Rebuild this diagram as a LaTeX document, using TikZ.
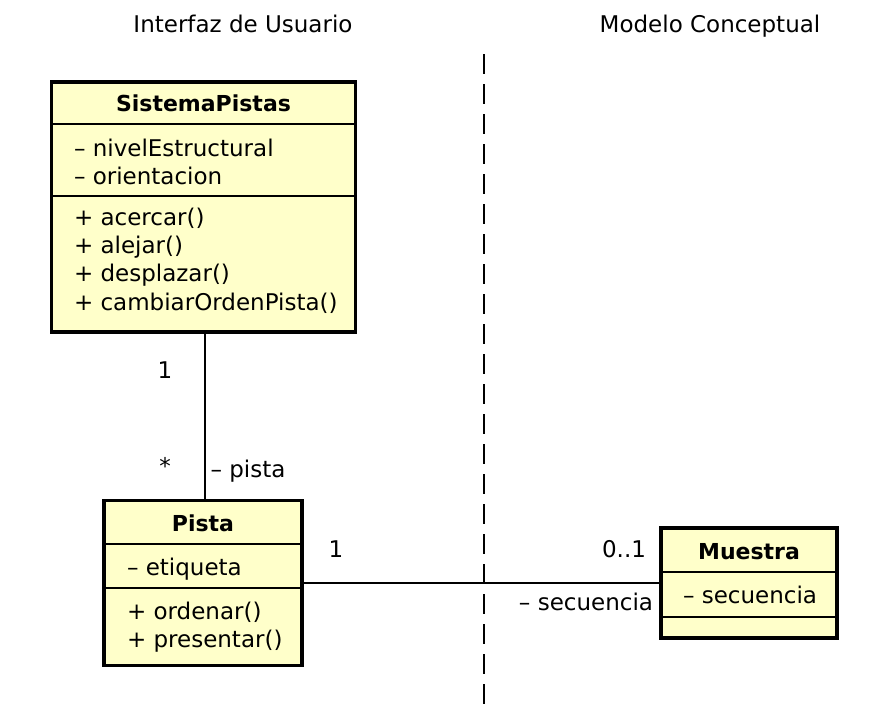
\documentclass[tikz,border=0pt]{standalone}
\usepackage{fontspec}
\setmainfont{DejaVu Sans}
\begin{document}
\begin{tikzpicture}[x=1pt,y=-1pt,
  every node/.style={inner sep=0pt, outer sep=0pt, font=\fontsize{23}{27}\selectfont},
  classbox/.style={draw, line width=3.5pt, fill=umlfill, rectangle},
  divider/.style={line width=1.2pt},
  conn/.style={line width=1.5pt},
  lbl/.style={anchor=base},
  mem/.style={anchor=base west},
  title/.style={anchor=base, font=\fontsize{22}{26}\selectfont\bfseries}]
\definecolor{umlfill}{RGB}{255,255,202}
\useasboundingbox (0,0) rectangle (886,716);
% headings
\node[lbl] (h1) at (243,32) {Interfaz de Usuario};
\node[lbl] (h2) at (710,32) {Modelo Conceptual};
% separator
\coordinate (sepT) at (484,54);
\coordinate (sepB) at (484,706);
\draw[line width=1.5pt, dash pattern=on 20pt off 10pt] (sepT) -- (sepB);
% SistemaPistas
\node[classbox, minimum width=304pt, minimum height=250pt] (sp) at (203.5,207) {};
\draw[divider] (sp.west |- 0,124) -- (sp.east |- 0,124);
\draw[divider] (sp.west |- 0,196) -- (sp.east |- 0,196);
\node[title] (spt) at (sp.north |- 0,111) {SistemaPistas};
\node[mem] (spa1) at (74,156) {– nivelEstructural};
\node[mem] (spa2) at (74,184) {– orientacion};
\node[mem] (spm1) at (74,225) {+ acercar()};
\node[mem] (spm2) at (74,253) {+ alejar()};
\node[mem] (spm3) at (74,281) {+ desplazar()};
\node[mem] (spm4) at (74,310) {+ cambiarOrdenPista()};
% Pista
\node[classbox, minimum width=198pt, minimum height=165pt] (pi) at (203,583) {};
\draw[divider] (pi.west |- 0,544) -- (pi.east |- 0,544);
\draw[divider] (pi.west |- 0,588) -- (pi.east |- 0,588);
\node[title] (pit) at (pi.north |- 0,531) {Pista};
\node[mem] (pia1) at (127,575) {– etiqueta};
\node[mem] (pim1) at (127,619) {+ ordenar()};
\node[mem] (pim2) at (127,647) {+ presentar()};
% Muestra
\node[classbox, minimum width=176pt, minimum height=110pt] (mu) at (749,583) {};
\draw[divider] (mu.west |- 0,572) -- (mu.east |- 0,572);
\draw[divider] (mu.west |- 0,617) -- (mu.east |- 0,617);
\node[title] (mut) at (mu.north |- 0,559) {Muestra};
\node[mem] (mua1) at (683,603) {– secuencia};
% connectors
\draw[conn] (sp.south -| 205,0) -- (pi.north -| 205,0);
\draw[conn] (pi.east) -- (mu.west);
% labels
\node[lbl] (l1) at (165,378) {1};
\node[lbl] (l2) at (165,474) {*};
\node[lbl] (l3) at (248,477) {– pista};
\node[lbl] (l4) at (336,557) {1};
\node[lbl] (l5) at (624,557) {0..1};
\node[lbl] (l6) at (586,610) {– secuencia};
\end{tikzpicture}
\end{document}
